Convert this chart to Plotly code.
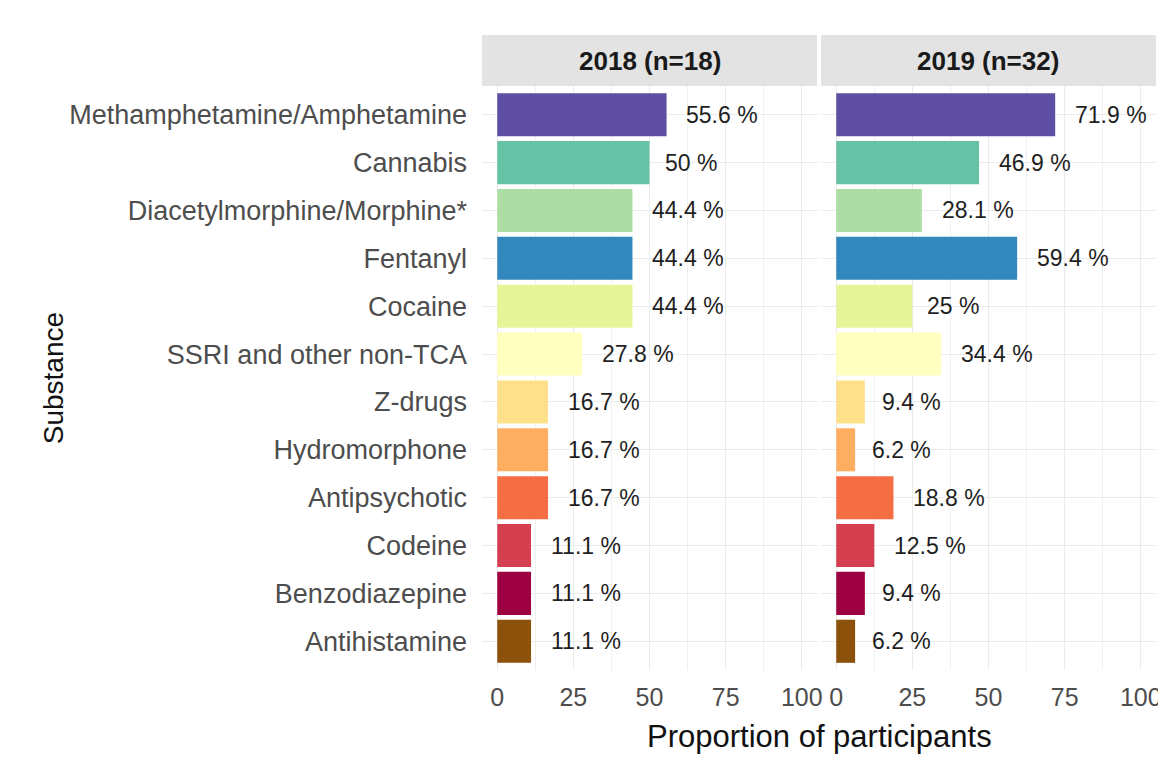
import plotly.graph_objects as go

# ==============================
# Data
# ==============================
substances = [
    "Methamphetamine/Amphetamine", "Cannabis", "Diacetylmorphine/Morphine*",
    "Fentanyl", "Cocaine", "SSRI and other non-TCA", "Z-drugs",
    "Hydromorphone", "Antipsychotic", "Codeine", "Benzodiazepine",
    "Antihistamine",
]
pct_2018 = [55.6, 50, 44.4, 44.4, 44.4, 27.8, 16.7, 16.7, 16.7, 11.1, 11.1, 11.1]
pct_2019 = [71.9, 46.9, 28.1, 59.4, 25, 34.4, 9.4, 6.2, 18.8, 12.5, 9.4, 6.2]
panel_titles = ["2018 (n=18)", "2019 (n=32)"]
x_ticks = [0, 25, 50, 75, 100]

bar_colors = [
    "#5E4FA2", "#66C2A5", "#ABDDA4", "#3288BD", "#E6F598", "#FFFFBF",
    "#FEE08B", "#FDAE61", "#F46D43", "#D53E4F", "#9E0142", "#8C510A",
]

FONT = "Arial, Liberation Sans, sans-serif"
W, H = 1166, 781
OFF = 8  # page body margin
ML, MR, MT, MB = 474, 16, 27, 119
PW, PH = W - ML - MR, H - MT - MB


def text_width(s, size):
    # rough Arial widths, used to mimic ggplot's hjust offset
    widths = {".": 0.278, " ": 0.278, "%": 0.889}
    return sum(widths.get(c, 0.556) for c in s) * size


# screen pixel -> paper coordinates
def px_x(p):
    return (p - OFF - ML) / PW


def px_y(p):
    return (H - MB - (p - OFF)) / PH


fig = go.Figure()

# ==============================
# Bars + value labels
# ==============================
for i, vals in enumerate([pct_2018, pct_2019]):
    xa = "x" if i == 0 else "x2"
    ya = "y" if i == 0 else "y2"
    fig.add_trace(go.Bar(
        x=vals, y=substances, orientation="h",
        marker=dict(color=bar_colors, line=dict(width=0)),
        xaxis=xa, yaxis=ya, showlegend=False, width=0.9,
    ))
    for s, v in zip(substances, vals):
        label = f"{v:g} %"
        fig.add_annotation(
            x=v, y=s, xref=xa, yref=ya, text=label, showarrow=False,
            xanchor="left", yanchor="middle",
            xshift=0.25 * text_width(label, 23),
            font=dict(family=FONT, size=23, color="#1f1f1f"),
        )

# ==============================
# Strips (facet headers)
# ==============================
strip_x = [(482, 818), (822, 1158)]
for (x0, x1), title in zip(strip_x, panel_titles):
    fig.add_shape(type="rect", xref="paper", yref="paper",
                  x0=px_x(x0), x1=px_x(x1), y0=px_y(86), y1=px_y(35),
                  fillcolor="#e3e3e3", line=dict(width=0), layer="below")
    fig.add_annotation(x=(px_x(x0) + px_x(x1)) / 2, y=(px_y(86) + px_y(35)) / 2,
                       xref="paper", yref="paper", text=f"<b>{title}</b>",
                       showarrow=False, xanchor="center", yanchor="middle",
                       font=dict(family=FONT, size=26, color="#1a1a1a"))

# Axis titles
fig.add_annotation(x=px_x(820), y=px_y(736), xref="paper", yref="paper",
                   text="Proportion of participants", showarrow=False,
                   xanchor="center", yanchor="middle",
                   font=dict(family=FONT, size=31, color="#111111"))
fig.add_annotation(x=px_x(52), y=px_y(378), xref="paper", yref="paper",
                   text="Substance", showarrow=False, textangle=-90,
                   xanchor="center", yanchor="middle",
                   font=dict(family=FONT, size=28, color="#111111"))

# ==============================
# Axes
# ==============================
grid = "#ebebeb"
xcommon = dict(
    range=[-5, 105], tickvals=x_ticks, showgrid=True, gridcolor=grid,
    gridwidth=1.2, zeroline=False, showline=False, ticks="",
    ticklabelstandoff=10, fixedrange=True,
    tickfont=dict(family=FONT, size=25, color="#4d4d4d"),
    minor=dict(tickvals=[12.5, 37.5, 62.5, 87.5], showgrid=True,
               gridcolor="#f0f0f0", gridwidth=1),
)
ycommon = dict(
    categoryorder="array", categoryarray=list(reversed(substances)),
    range=[-0.6, len(substances) - 0.4], showgrid=True, gridcolor=grid,
    gridwidth=1.2, zeroline=False, showline=False, ticks="",
    domain=[0, px_y(86)],
    tickfont=dict(family=FONT, size=27, color="#4d4d4d"),
)

fig.update_layout(
    width=W, height=H,
    margin=dict(l=ML, r=MR, t=MT, b=MB),
    paper_bgcolor="white", plot_bgcolor="white",
    bargap=0.1,
    xaxis=dict(domain=[0, px_x(818)], **xcommon),
    xaxis2=dict(domain=[px_x(822), 1], anchor="y2", **xcommon),
    yaxis=dict(anchor="x", ticklabelstandoff=14, **ycommon),
    yaxis2=dict(anchor="x2", matches="y", showticklabels=False, **ycommon),
)

fig.write_html("out.html")
